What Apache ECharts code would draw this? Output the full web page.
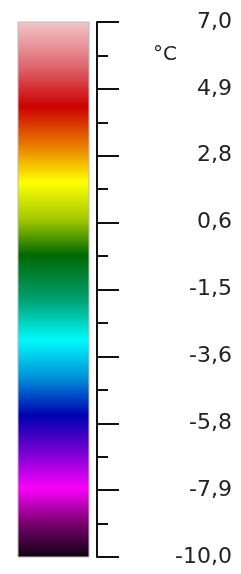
<!DOCTYPE html>
<html>
<head>
<meta charset="utf-8">
<script src="https://cdn.jsdelivr.net/npm/echarts@6/dist/echarts.min.js"></script>
<style>
  html, body { margin: 0; padding: 0; background: #fff; }
  #container { width: 241px; height: 574px; }
</style>
</head>
<body>
<div id="container"></div>
<script>
// scale range (°C)
var scaleMin = -10;
var scaleMax = 7;
var unitLabel = '°C';
// labelled ticks and their texts
var tickValues = [-10, -7.875, -5.75, -3.625, -1.5, 0.625, 2.75, 4.875, 7];
var tickLabels = ['-10,0', '-7,9', '-5,8', '-3,6', '-1,5', '0,6', '2,8', '4,9', '7,0'];
// colour ramp, read top to bottom
var stopValues = [7, 5.7, 4.3, 3.1, 1.9, 0.7, -0.4, -1.8, -3.1, -4.3, -5.5, -6.6, -7.8, -8.9, -10];
var stopColors = ['#f2c6ca', '#e07078', '#cc0000', '#e87800', '#ffff00', '#a0c800', '#006800',
                  '#00a070', '#00fafa', '#0090d8', '#0000b0', '#7000d0', '#fa00fa', '#7a0070', '#100010'];

(function () {
    var dom = document.getElementById('container');
    var myChart = echarts.init(dom);

    var minorValues = [];
    for (var i = 0; i < tickValues.length - 1; i++) {
        minorValues.push((tickValues[i] + tickValues[i + 1]) / 2);
    }

    var stops = [];
    for (var k = 0; k < stopValues.length; k++) {
        stops.push({
            offset: (scaleMax - stopValues[k]) / (scaleMax - scaleMin),
            color: stopColors[k]
        });
    }

    var option = {
        animation: false,
        backgroundColor: '#fff',
        grid: { left: 18, top: 22, width: 71, height: 535 },
        xAxis: { type: 'category', data: [''], show: false },
        yAxis: [
            {
                type: 'value',
                min: scaleMin,
                max: scaleMax,
                position: 'right',
                offset: 8,
                splitLine: { show: false },
                axisLine: { show: true, lineStyle: { color: '#111', width: 2 } },
                axisTick: {
                    show: true,
                    length: 22,
                    customValues: tickValues,
                    lineStyle: { color: '#111', width: 2 }
                },
                axisLabel: {
                    customValues: tickValues,
                    align: 'right',
                    margin: 135,
                    color: '#222',
                    fontFamily: 'DejaVu Sans',
                    fontSize: 22,
                    formatter: function (v) {
                        var idx = tickValues.indexOf(v);
                        return idx >= 0 ? tickLabels[idx] : '';
                    }
                }
            },
            {
                type: 'value',
                min: scaleMin,
                max: scaleMax,
                position: 'right',
                offset: 8,
                splitLine: { show: false },
                axisLine: { show: false },
                axisTick: {
                    show: true,
                    length: 11,
                    customValues: minorValues,
                    lineStyle: { color: '#111', width: 2 }
                },
                axisLabel: { show: false }
            }
        ],
        graphic: [{
            type: 'text',
            left: 153,
            top: 45,
            style: {
                text: unitLabel,
                fill: '#222',
                font: '20px "DejaVu Sans"'
            }
        }],
        series: [{
            type: 'custom',
            data: [[0, scaleMin, scaleMax]],
            renderItem: function (params, api) {
                var top = api.coord([api.value(0), api.value(2)]);
                var bottom = api.coord([api.value(0), api.value(1)]);
                var cs = params.coordSys;
                return {
                    type: 'rect',
                    shape: { x: cs.x, y: top[1], width: cs.width, height: bottom[1] - top[1] },
                    style: {
                        fill: new echarts.graphic.LinearGradient(0, 0, 0, 1, stops),
                        stroke: '#bbb',
                        lineWidth: 1
                    }
                };
            }
        }]
    };

    myChart.setOption(option, true);
}());
</script>
</body>
</html>
